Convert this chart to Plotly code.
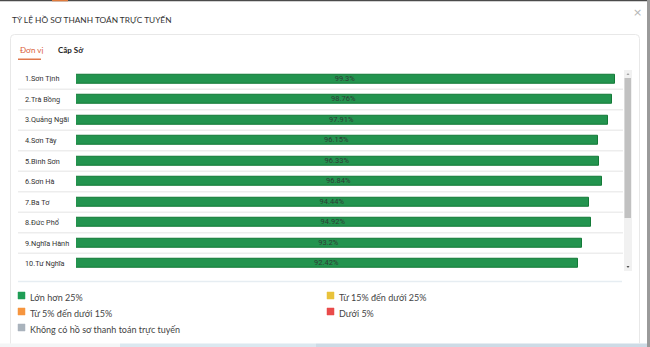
import plotly.graph_objects as go

W, H = 650, 347
units = ["1.Sơn Tịnh", "2.Trà Bồng", "3.Quảng Ngãi", "4.Sơn Tây", "5.Bình Sơn",
         "6.Sơn Hà", "7.Ba Tơ", "8.Đức Phổ", "9.Nghĩa Hành", "10.Tư Nghĩa"]
rates = [99.3, 98.76, 97.91, 96.15, 96.33, 96.84, 94.44, 94.92, 93.2, 92.42]
rate_labels = ["99.3%", "98.76%", "97.91%", "96.15%", "96.33%",
               "96.84%", "94.44%", "94.92%", "93.2%", "92.42%"]
legend_items = ["Lớn hơn 25%", "Từ 15% đến dưới 25%", "Từ 5% đến dưới 15%",
                "Dưới 5%", "Không có hồ sơ thanh toán trực tuyến"]
legend_colors = ["#1f9d55", "#e9c23b", "#f6953f", "#e94b4b", "#a9b3bc"]


def px(x):
    return x / W


def py(y):
    return 1 - y / H


fig = go.Figure()
fig.add_trace(go.Bar(
    y=list(range(len(units))), x=rates, orientation="h",
    text=rate_labels, textposition="inside", insidetextanchor="middle",
    textfont=dict(family="Roboto", size=7.5, color="#2f3b35"),
    marker=dict(color="#23944f", line=dict(color="#137a37", width=1)),
    width=0.46, hoverinfo="skip", cliponaxis=False,
))

shapes = []
annotations = []

# outer top border and right edge
shapes.append(dict(type="rect", xref="paper", yref="paper", x0=0, x1=1, y0=py(1.3), y1=1,
                   fillcolor="#4a4a4a", line_width=0, layer="below"))
shapes.append(dict(type="rect", xref="paper", yref="paper", x0=px(52), x1=px(68), y0=py(1.3), y1=1,
                   fillcolor="#e07b3c", line_width=0, layer="below"))
shapes.append(dict(type="rect", xref="paper", yref="paper", x0=px(647), x1=1, y0=0, y1=1,
                   fillcolor="#9a9a9a", line_width=0, layer="below"))
# bottom strip
shapes.append(dict(type="rect", xref="paper", yref="paper", x0=px(0), x1=px(120), y0=0, y1=py(343.5),
                   fillcolor="#f3f5f6", line_width=0, layer="below"))
shapes.append(dict(type="rect", xref="paper", yref="paper", x0=px(120), x1=px(316), y0=0, y1=py(343.5),
                   fillcolor="#dbe8f0", line_width=0, layer="below"))
shapes.append(dict(type="rect", xref="paper", yref="paper", x0=px(316), x1=px(647), y0=0, y1=py(343.5),
                   fillcolor="#cddbe6", line_width=0, layer="below"))
# card with rounded top corners
L, R, T, B, r = 10.5, 639.5, 34.5, 343.5, 4
card_path = (f"M {px(L)},{py(B)} L {px(L)},{py(T + r)} Q {px(L)},{py(T)} {px(L + r)},{py(T)} "
             f"L {px(R - r)},{py(T)} Q {px(R)},{py(T)} {px(R)},{py(T + r)} L {px(R)},{py(B)}")
shapes.append(dict(type="path", xref="paper", yref="paper", path=card_path,
                   line=dict(color="#e8e8e8", width=1), layer="below"))
# tab underline
shapes.append(dict(type="rect", xref="paper", yref="paper", x0=px(18), x1=px(41), y0=py(60), y1=py(58.5),
                   fillcolor="#e0784d", line_width=0))
# row separators
for i in range(len(units) - 1):
    shapes.append(dict(type="line", xref="paper", yref="y", x0=px(18), x1=px(623),
                       y0=i + 0.5, y1=i + 0.5, line=dict(color="#ededed", width=1.5), layer="below"))
shapes.append(dict(type="line", xref="paper", yref="paper", x0=px(18), x1=px(622),
                   y0=py(281.5), y1=py(281.5), line=dict(color="#e6edf2", width=1.5)))
# scrollbar
shapes.append(dict(type="rect", xref="paper", yref="paper", x0=px(624), x1=px(632), y0=py(271), y1=py(70),
                   fillcolor="#f1f1f1", line_width=0, layer="below"))
shapes.append(dict(type="rect", xref="paper", yref="paper", x0=px(624.5), x1=px(631), y0=py(218), y1=py(78),
                   fillcolor="#c1c1c1", line_width=0))
shapes.append(dict(type="path", xref="paper", yref="paper",
                   path=f"M {px(626.5)},{py(75)} L {px(629.5)},{py(75)} L {px(628)},{py(73)} Z",
                   fillcolor="#a3a3a3", line_width=0))
shapes.append(dict(type="path", xref="paper", yref="paper",
                   path=f"M {px(626.5)},{py(266)} L {px(629.5)},{py(266)} L {px(628)},{py(268)} Z",
                   fillcolor="#505050", line_width=0))

# header texts
annotations.append(dict(text="TỶ LỆ HỒ SƠ THANH TOÁN TRỰC TUYẾN", xref="paper", yref="paper",
                        x=px(9.5), y=py(20), xanchor="left", yanchor="middle", showarrow=False,
                        font=dict(family="Lato", size=8.3, color="#333333")))
annotations.append(dict(text="×", xref="paper", yref="paper", x=px(637), y=py(13), xanchor="center",
                        yanchor="middle", showarrow=False, font=dict(family="DejaVu Sans", size=11, color="#b5b5b5")))
annotations.append(dict(text="Đơn vị", xref="paper", yref="paper", x=px(17.5), y=py(50), xanchor="left",
                        yanchor="middle", showarrow=False, font=dict(family="Lato", size=8, color="#d9603a")))
annotations.append(dict(text="<b>Cấp Sở</b>", xref="paper", yref="paper", x=px(56), y=py(50), xanchor="left",
                        yanchor="middle", showarrow=False, font=dict(family="Lato", size=8, color="#222222")))

# row labels
for i, name in enumerate(units):
    annotations.append(dict(text=name, xref="paper", yref="y", x=px(22.5), y=i, xanchor="left",
                            yanchor="middle", showarrow=False,
                            font=dict(family="Roboto", size=7.3, color="#333333")))

# legend
leg_pos = [(18, 295.5), (327, 295.5), (18, 311.5), (327, 311.5), (18, 327.5)]
for (lx, ly), lbl, col in zip(leg_pos, legend_items, legend_colors):
    shapes.append(dict(type="rect", xref="paper", yref="paper", x0=px(lx), x1=px(lx + 7),
                       y0=py(ly + 3.5), y1=py(ly - 3.5), fillcolor=col, line=dict(color=col, width=0.5)))
    annotations.append(dict(text=lbl, xref="paper", yref="paper", x=px(lx + 9.5), y=py(ly + 2),
                            xanchor="left", yanchor="middle", showarrow=False,
                            font=dict(family="Lato", size=9, color="#444444")))

top, bottom = 68.75, 273.75
fig.update_layout(
    width=W, height=H, margin=dict(l=0, r=0, t=0, b=0),
    paper_bgcolor="white", plot_bgcolor="rgba(0,0,0,0)",
    showlegend=False, bargap=0,
    xaxis=dict(domain=[px(76), px(619)], range=[0, 100], visible=False, fixedrange=True),
    yaxis=dict(domain=[py(bottom), py(top)], range=[len(units) - 0.5, -0.5], visible=False, fixedrange=True),
    shapes=shapes, annotations=annotations,
    uniformtext=dict(minsize=6, mode="show"),
)
fig.write_html("out.html", config={"displayModeBar": False})
